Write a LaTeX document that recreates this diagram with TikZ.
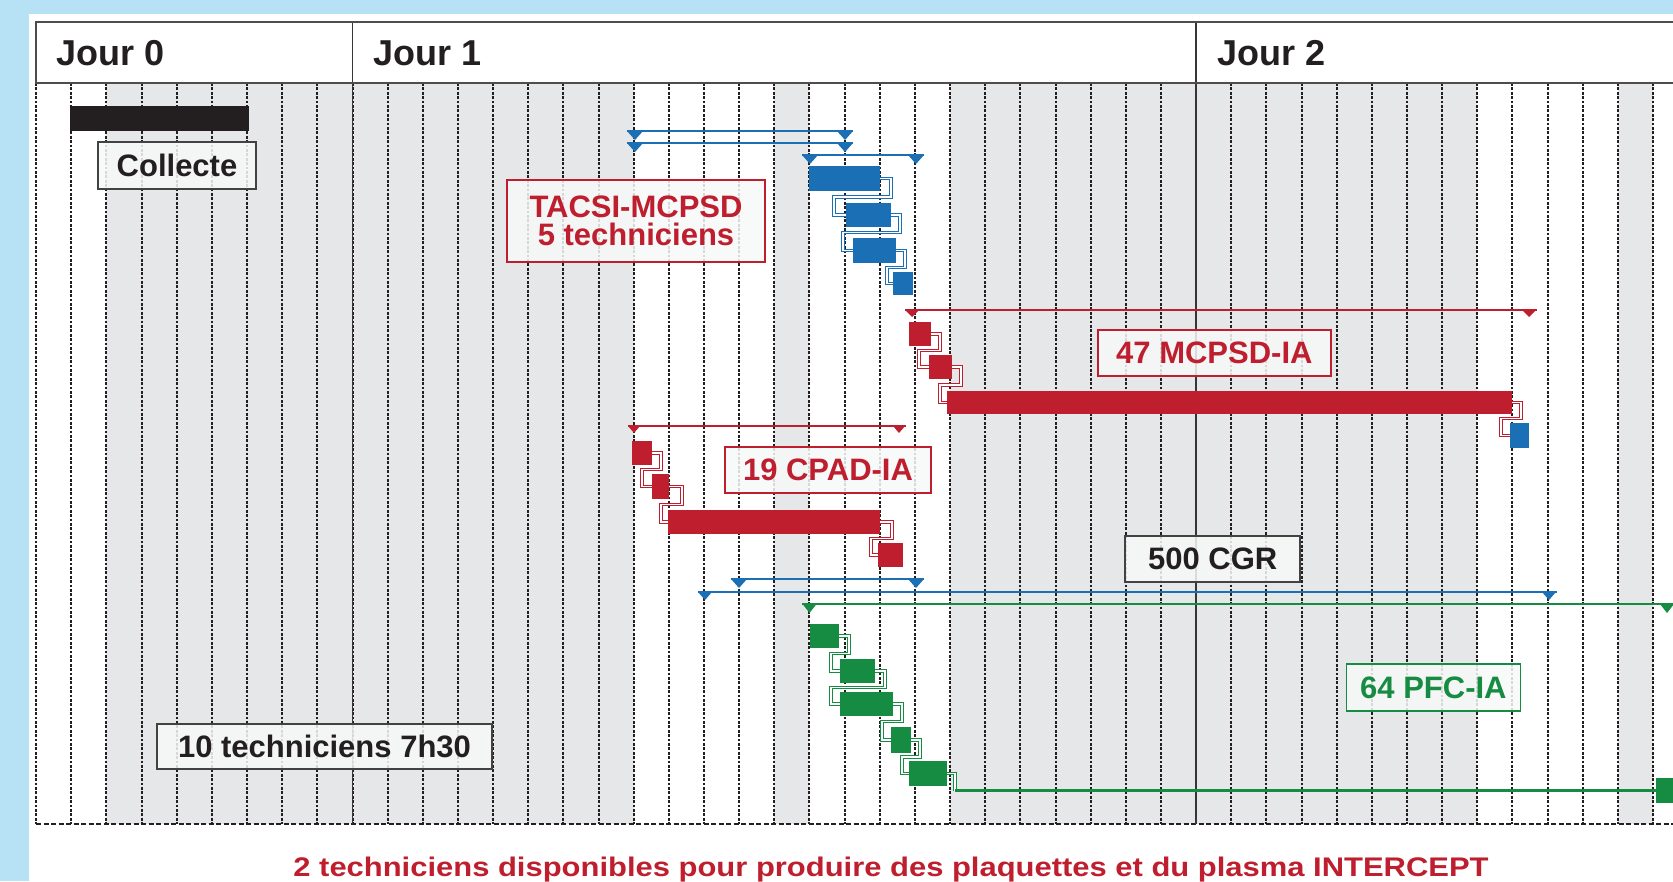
\documentclass[tikz,border=0pt]{standalone}
\usepackage{fontspec}
\usepackage{graphicx}
\setmainfont{Liberation Sans}
\usetikzlibrary{calc}

\definecolor{bgblue}{RGB}{183,226,246}
\definecolor{colgray}{RGB}{230,231,233}
\definecolor{ink}{RGB}{35,31,32}
\definecolor{tblue}{RGB}{27,111,180}
\definecolor{tred}{RGB}{190,30,45}
\definecolor{tgreen}{RGB}{22,140,66}
\definecolor{boxfill}{RGB}{247,248,248}

\pgfdeclarelayer{back}
\pgfdeclarelayer{links}
\pgfsetlayers{back,links,main}

\newcommand\hdrfont{\fontsize{36}{36}\selectfont\bfseries}
\newcommand\lblfont{\fontsize{31}{28}\selectfont\bfseries}

\tikzset{
  hour/.style={ink, line width=2pt, dash pattern=on 2.8pt off 1.6pt},
  task/.style={fill=#1, draw=none, inner sep=0pt, outer sep=0pt, rectangle},
  link/.style={draw=#1, double=white, double distance=1.5pt, line width=1.1pt},
  tag/.style={draw=#1, line width=1.5pt, fill=boxfill, fill opacity=0.85,
    text opacity=1, inner sep=0pt, align=center, font=\lblfont},
}

% task bar: colour, name, centre x, centre y, width, height
\newcommand\taskbox[6]{\node[task=#1, minimum width=#5pt, minimum height=#6pt] (#2) at (#3,#4) {};}

% finish-to-start link: colour, from, to, step out, step in
\newcommand\tasklink[5]{%
  \coordinate (lkM) at ($(#2.south)!0.5!(#3.north)$);
  \coordinate (lkA) at ($(#2.east)+(#4,0)$);
  \coordinate (lkB) at ($(#3.west)+(-#5,0)$);
  \draw[link=#1] (#2.east) -- (lkA) -- (lkA |- lkM) -- (lkB |- lkM) -- (lkB |- #3.west) -- (#3.west);
}

% summary line with end markers: colour, y, x1, x2, marker1, marker2, half width, depth
\newcommand\summary[8]{%
  \draw[#1, line width=2.6pt] (#3,#2) -- (#4,#2);
  \fill[#1] ({#5-#7},#2) -- ({#5+#7},#2) -- (#5,{#2+#8}) -- cycle;
  \fill[#1] ({#6-#7},#2) -- ({#6+#7},#2) -- (#6,{#2+#8}) -- cycle;
}

\begin{document}
\begin{tikzpicture}[x=1pt,y=-1pt]
\useasboundingbox (0,0) rectangle (1673,881);

\begin{pgfonlayer}{back}
  \fill[bgblue] (0,0) rectangle (1673,881);
  \fill[white] (29,14) rectangle (1673,881);
  % shaded hours
  \foreach \a/\b in {-7/8,12/13,17/32,36/37}
    \fill[colgray] ({352.5+35.15*\a},83) rectangle ({352.5+35.15*\b},824);
  \fill[white] (36.2,22) rectangle (1673,83);
  % hour grid
  \foreach \h in {-9,...,37}
    \draw[hour] ({352.5+35.15*\h},83) -- ({352.5+35.15*\h},824);
  \draw[ink, line width=1.6pt, dash pattern=on 5pt off 2.5pt] (36.2,824) -- (1673,824);
  % day boundaries
  \draw[ink!90, line width=1.8pt] (352.5,22) -- (352.5,824);
  \draw[ink!90, line width=1.8pt] (1196.1,22) -- (1196.1,824);
  \draw[ink!80, line width=2pt] (1673,22) -- (36.2,22) -- (36.2,83) -- (1673,83);
\end{pgfonlayer}

% day headings
\node[anchor=base west, inner sep=0pt, font=\hdrfont, text=ink] (j0) at (56,65) {Jour 0};
\node[anchor=base west, inner sep=0pt, font=\hdrfont, text=ink] (j1) at (373,65) {Jour 1};
\node[anchor=base west, inner sep=0pt, font=\hdrfont, text=ink] (j2) at (1217,65) {Jour 2};

% collection
\taskbox{ink}{collbar}{159.5}{118.5}{179}{25}

% summary lines
\summary{tblue}{131}{627}{853}{635}{845}{8}{9}
\summary{tblue}{143}{627}{853}{635}{845}{8}{9}
\summary{tblue}{155}{802}{924}{810}{916}{8}{9}
\summary{tred}{310}{905}{1537}{912}{1529}{7}{7}
\summary{tred}{426}{628}{906}{634}{899}{6}{7}
\summary{tblue}{579}{731}{924}{739}{916}{8}{9}
\summary{tblue}{592}{698}{1557}{705}{1549}{7}{8}
\summary{tgreen}{604}{802}{1673}{809.5}{1667}{7}{9}

% TACSI-MCPSD
\taskbox{tblue}{b1}{844.5}{178.5}{71}{25}
\taskbox{tblue}{b2}{868.5}{215}{45}{24}
\taskbox{tblue}{b3}{874.5}{250.5}{43}{25}
\taskbox{tblue}{b4}{903}{283.5}{20}{23}
% MCPSD-IA
\taskbox{tred}{r1}{920}{334}{22}{24}
\taskbox{tred}{r2}{940.5}{367}{23}{24}
\taskbox{tred}{r3}{1229.5}{402.5}{565}{23}
\taskbox{tblue}{bd}{1519.5}{435.5}{19}{25}
% CPAD-IA
\taskbox{tred}{c1}{642}{453}{20}{24}
\taskbox{tred}{c2}{660.5}{486.5}{17}{25}
\taskbox{tred}{c3}{774}{522}{212}{24}
\taskbox{tred}{c4}{890.5}{555}{25}{24}
% PFC-IA
\taskbox{tgreen}{g1}{824.5}{636}{29}{24}
\taskbox{tgreen}{g2}{857.5}{671}{35}{24}
\taskbox{tgreen}{g3}{866.5}{704}{53}{24}
\taskbox{tgreen}{g4}{901}{740}{20}{26}
\taskbox{tgreen}{g5}{928}{773.5}{38}{25}
\taskbox{tgreen}{g6}{1664.5}{790.5}{17}{25}

\begin{pgfonlayer}{links}
  \tasklink{tblue}{b1}{b2}{11}{12}
  \tasklink{tblue}{b2}{b3}{9}{10}
  \tasklink{tblue}{b3}{b4}{9}{6}
  \tasklink{tred}{r1}{r2}{9}{10}
  \tasklink{tred}{r2}{r3}{9}{7}
  \tasklink{tred}{r3}{bd}{9}{9}
  \tasklink{tred}{c1}{c2}{9}{10}
  \tasklink{tred}{c2}{c3}{13}{7}
  \tasklink{tred}{c3}{c4}{12}{7}
  \tasklink{tgreen}{g1}{g2}{10}{9}
  \tasklink{tgreen}{g2}{g3}{10}{9}
  \tasklink{tgreen}{g3}{g4}{9}{9}
  \tasklink{tgreen}{g4}{g5}{9}{7}
  \draw[link=tgreen] (g5.east) -- ++(8,0) coordinate (g5out) -- (g5out |- g6.west);
  \draw[tgreen, line width=2.6pt] (g5out |- g6.west) -- (g6.west);
\end{pgfonlayer}

% labels
\node[tag=ink!85, text=ink, minimum width=158pt, minimum height=47pt] (collecte) at (177,165.5) {Collecte};
\node[tag=tred, text=tred, minimum width=258pt, minimum height=82pt] (tacsi) at (636,221) {TACSI-MCPSD\\5 techniciens};
\node[tag=tred, text=tred, minimum width=233pt, minimum height=46pt] (mcpsd) at (1214.4,353) {47 MCPSD-IA};
\node[tag=tred, text=tred, minimum width=206pt, minimum height=46pt] (cpad) at (828,470) {19 CPAD-IA};
\node[tag=ink!85, text=ink, minimum width=175pt, minimum height=46pt] (cgr) at (1212.7,559) {500 CGR};
\node[tag=tgreen, text=tgreen, minimum width=174pt, minimum height=47pt] (pfc) at (1433.4,687.5) {64 PFC-IA};
\node[tag=ink!85, text=ink, minimum width=335pt, minimum height=45pt] (tech) at (324.5,746.5) {10 techniciens 7h30};

% footer
\node[anchor=base, inner sep=0pt, text=tred] (foot) at (891,876)
  {\resizebox{1195pt}{19.5pt}{\bfseries 2 techniciens disponibles pour produire des plaquettes et du plasma INTERCEPT}};
\end{tikzpicture}
\end{document}
